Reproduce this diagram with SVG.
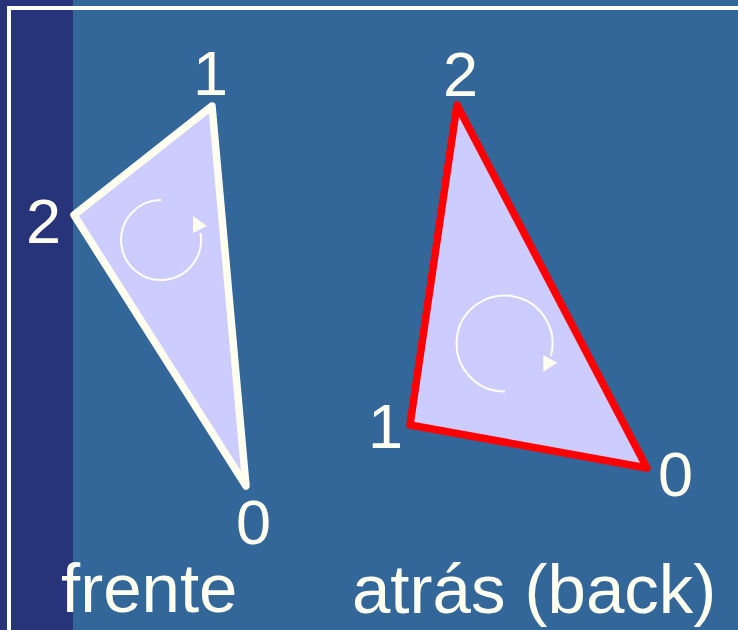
<svg xmlns="http://www.w3.org/2000/svg" width="738" height="630" viewBox="0 0 738 630">
<style>
.lbl{font-family:"Liberation Sans",Arial,sans-serif;fill:#FFFFF0;font-size:63px}
.cap{font-family:"Liberation Sans",Arial,sans-serif;fill:#FFFFF0;font-size:69px}
.tri{fill:#CCCCFF;stroke-width:7.5;stroke-linejoin:round}
.rot{fill:none;stroke:#FFFFF0;stroke-width:2}
</style>
<g id="background">
<rect x="0" y="0" width="738" height="630" fill="#336699"/>
<rect x="0" y="0" width="73" height="630" fill="#283479"/>
<polyline points="9,630 9,8 738,8" fill="none" stroke="#FFFFFF" stroke-width="4"/>
</g>
<g id="front-triangle">
<polygon class="tri" points="212,106 74,215 246,486" stroke="#FFFFF0"/>
<path class="rot" d="M161,200 A40,40 0 1 0 200.4,233"/>
<polygon points="193,216 207,226 193,233" fill="#FFFFF0"/>
<text class="lbl" x="193" y="95">1</text>
<text class="lbl" x="26" y="243">2</text>
<text class="lbl" x="236" y="544">0</text>
</g>
<g id="back-triangle">
<polygon class="tri" points="457,105 410,425 647,468" stroke="#FF0000"/>
<path class="rot" d="M505,391.5 A48,48 0 1 1 550.9,355.9"/>
<polygon points="543.3,355 557.3,362.7 543.3,371.7" fill="#FFFFF0"/>
<text class="lbl" x="443" y="96">2</text>
<text class="lbl" x="368" y="448">1</text>
<text class="lbl" x="658" y="496">0</text>
</g>
<g id="captions">
<text class="cap" x="61" y="612">frente</text>
<text class="cap" x="352" y="613">atrás (back)</text>
</g>
<g id="connectors"/>
</svg>
